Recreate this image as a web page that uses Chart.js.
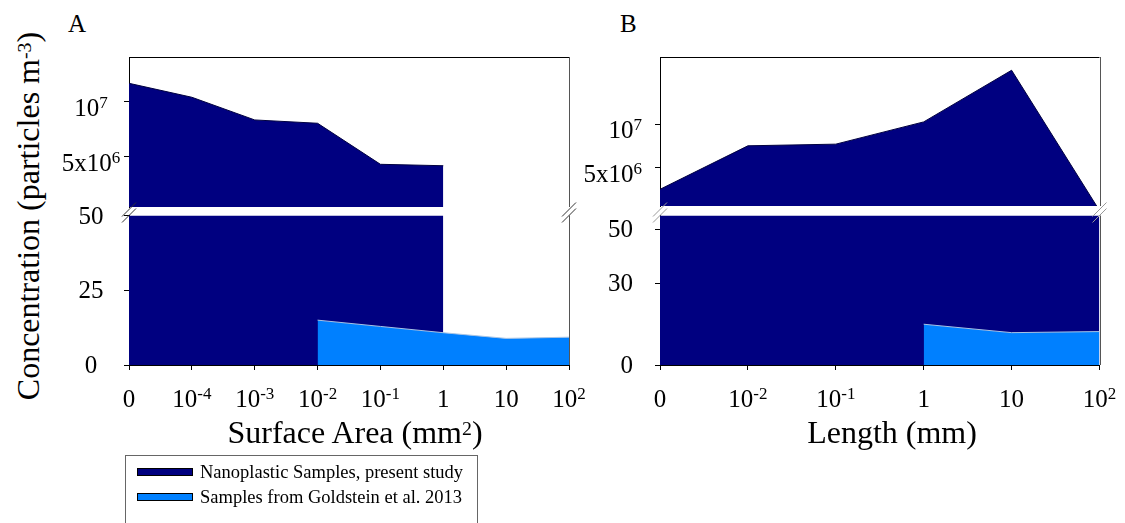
<!DOCTYPE html>
<html><head><meta charset="utf-8">
<script src="https://cdn.jsdelivr.net/npm/chart.js@4.4.1/dist/chart.umd.min.js"></script>
<style>
html,body{margin:0;padding:0;background:#fff}
body{width:1125px;height:523px;position:relative;overflow:hidden;font-family:"Liberation Serif","Times New Roman",serif;color:#000}
canvas{position:absolute}
.txt{position:absolute;white-space:nowrap;line-height:1}
sup{font-size:0.62em;vertical-align:0;position:relative;top:-0.42em}
#legend{position:absolute;left:125px;top:455px;width:353px;height:80px;border:1px solid #666;box-sizing:border-box}
.sw{position:absolute;width:56px;height:8px;border:1px solid #000;box-sizing:border-box}
.lt{position:absolute;font-size:18.5px;line-height:1;white-space:nowrap}
</style></head><body>
<canvas id="aU" width="550" height="165" style="left:50px;top:45px"></canvas>
<canvas id="aL" width="550" height="230" style="left:50px;top:195px"></canvas>
<canvas id="bU" width="555" height="165" style="left:570px;top:45px"></canvas>
<canvas id="bL" width="555" height="230" style="left:570px;top:195px"></canvas>
<div class="txt" style="left:68px;top:10.6px;font-size:25px">A</div>
<div class="txt" style="left:620px;top:10.6px;font-size:25px">B</div>
<div class="txt" style="font-size:32px;left:28px;top:216px;transform:translate(-50%,-50%) rotate(-90deg)">Concentration (particles m<sup>-3</sup>)</div>
<div class="txt" style="font-size:32px;left:355px;top:416px;transform:translateX(-50%)">Surface Area (mm<sup>2</sup>)</div>
<div class="txt" style="font-size:32px;left:892px;top:416px;transform:translateX(-50%)">Length (mm)</div>
<div id="legend">
  <div class="sw" style="left:11px;top:12px;background:#000080"></div>
  <div class="lt" style="left:74px;top:7px">Nanoplastic Samples, present study</div>
  <div class="sw" style="left:11px;top:37px;background:#0080FF"></div>
  <div class="lt" style="left:74px;top:32px">Samples from Goldstein et al. 2013</div>
</div>
<script>
// ---- data ----
const xLabelsA = ['0','10^-4','10^-3','10^-2','10^-1','1','10','10^2'];
const nanoA = [11670000, 10400000, 8340000, 8040000, 4310000, 4180000, null, null];
const goldA = [null, null, null, 15.0, 12.9, 10.8, 8.9, 9.3];
const xLabelsB = ['0','10^-2','10^-1','1','10','10^2'];
const nanoB = [2530000, 7520000, 7710000, 10260000, 16180000, 100000];
const goldB = [null, null, null, 15.0, 11.9, 12.3];
const yTicksUpper = [5000000, 10000000];
const yLabelsUpper = ['5x10^6', '10^7'];
const yTicksLowerA = [0, 25, 50];
const yLabelsLowerA = ['0', '25', '50'];
const yTicksLowerB = [0, 30, 50];
const yLabelsLowerB = ['0', '30', '50'];

const DARK = '#000080', LIGHT = '#0080FF';
const FONT = '"Liberation Serif","Times New Roman",serif';
const TICK_FS = 25;

function drawSup(ctx, text, x, y, align, fs) {
  const parts = text.split('^');
  const base = parts[0], sup = parts[1];
  const sfs = Math.round(fs * 0.66);
  ctx.font = fs + 'px ' + FONT;
  const bw = ctx.measureText(base).width;
  let sw = 0;
  if (sup) { ctx.font = sfs + 'px ' + FONT; sw = ctx.measureText(sup).width; }
  const total = bw + sw;
  const x0 = align === 'center' ? x - total / 2 : (align === 'right' ? x - total : x);
  ctx.textAlign = 'left'; ctx.textBaseline = 'alphabetic'; ctx.fillStyle = '#000';
  ctx.font = fs + 'px ' + FONT; ctx.fillText(base, x0, y);
  if (sup) { ctx.font = sfs + 'px ' + FONT; ctx.fillText(sup, x0 + bw, y - fs * 0.31); }
}

const decor = {
  id: 'decor',
  afterDraw(chart, args, o) {
    const ctx = chart.ctx, a = chart.chartArea;
    const ln = (x1, y1, x2, y2, c) => { ctx.beginPath(); ctx.strokeStyle = c; ctx.lineWidth = 1; ctx.moveTo(x1, y1); ctx.lineTo(x2, y2); ctx.stroke(); };
    ctx.save();
    const R = Math.round(a.right) + 0.5, T = Math.round(a.top) + 0.5;
    if (o.top) ln(a.left, T, a.right, T, '#000');
    ln(R, a.top, R, a.bottom, o.rightColor || '#666');
    if (o.breaks) {
      [a.left, a.right].forEach(x => {
        [-6, 0].forEach(dy => ln(x - 7, a.top + dy + 7, x + 7, a.top + dy - 7, o.breakColor || '#444'));
      });
    }
    const ys = chart.scales.y;
    o.yTicks.forEach((v, i) => {
      const py = ys.getPixelForValue(v);
      drawSup(ctx, o.yLabels[i], a.left - o.yLabOff, py + o.yBaseOff, o.yAlign, TICK_FS);
    });
    if (o.xLabels) {
      const xs = chart.scales.x;
      o.xLabels.forEach((l, i) => drawSup(ctx, l, xs.getPixelForValue(i), o.xBaseline, 'center', TICK_FS));
    }
    ctx.restore();
  }
};

function makeChart(id, labels, nano, gold, yMin, yMax, yTicks, yLabels, o) {
  return new Chart(document.getElementById(id), {
    type: 'line',
    data: { labels: labels, datasets: [
      { label: 'Samples from Goldstein et al. 2013', data: gold, backgroundColor: LIGHT, borderColor: '#a8c4e4', borderWidth: 1, fill: 'origin', pointRadius: 0, tension: 0, clip: 0, order: 0 },
      { label: 'Nanoplastic Samples, present study', data: nano, backgroundColor: DARK, borderColor: '#000040', borderWidth: 1, fill: 'origin', pointRadius: 0, tension: 0, clip: 0, order: 1 }
    ]},
    options: {
      responsive: false, animation: false, events: [],
      layout: { padding: o.pad, autoPadding: false },
      plugins: { legend: { display: false }, tooltip: { enabled: false }, title: { display: false },
        decor: { top: o.top, breaks: o.breaks, yTicks: yTicks, yLabels: yLabels, yLabOff: o.yLabOff, yAlign: o.yAlign, yBaseOff: o.yBaseOff, xLabels: o.xLabels, xBaseline: o.xBaseline, rightColor: o.rightColor, breakColor: o.breakColor } },
      scales: {
        x: { type: 'category', offset: false, display: o.showX,
             grid: { display: true, drawOnChartArea: false, drawTicks: true, tickLength: 5, color: '#000', offset: false },
             border: { display: true, color: '#000', width: 1 }, ticks: { display: false },
             afterFit: s => { s.height = o.xHeight; } },
        y: { type: 'linear', min: yMin, max: yMax,
             grid: { drawOnChartArea: false, drawTicks: true, tickLength: 5, color: '#000' },
             border: { display: true, color: '#000', width: 1 }, ticks: { display: false },
             afterBuildTicks: s => { s.ticks = yTicks.map(v => ({ value: v })); },
             afterFit: s => { s.width = o.yWidth; } }
      }
    },
    plugins: [decor]
  });
}

// Panel A
makeChart('aU', xLabelsA, nanoA, goldA, 430000, 14060000, yTicksUpper, yLabelsUpper,
  { pad: { top: 12, right: 31, bottom: 3, left: 0 }, yWidth: 79, showX: false, xHeight: 0, top: true, breaks: false,
    yLabOff: 38, yAlign: 'center', yBaseOff: 14, rightColor: '#555' });
makeChart('aL', xLabelsA, nanoA, goldA, 0, 50, yTicksLowerA, yLabelsLowerA,
  { pad: { top: 20.5, right: 31, bottom: 0, left: 0 }, yWidth: 79, showX: true, xHeight: 60, top: false, breaks: true,
    yLabOff: 38, yAlign: 'center', yBaseOff: 8, xLabels: xLabelsA, xBaseline: 212, rightColor: '#555', breakColor: '#333' });
// Panel B
makeChart('bU', xLabelsB, nanoB, goldB, 620000, 17700000, yTicksUpper, yLabelsUpper,
  { pad: { top: 12, right: 25.5, bottom: 4, left: 0 }, yWidth: 90, showX: false, xHeight: 0, top: true, breaks: false,
    yLabOff: 18, yAlign: 'right', yBaseOff: 14, rightColor: '#555' });
makeChart('bL', xLabelsB, nanoB, goldB, 0, 55, yTicksLowerB, yLabelsLowerB,
  { pad: { top: 20.5, right: 25.5, bottom: 0, left: 0 }, yWidth: 90, showX: true, xHeight: 60, top: false, breaks: true,
    yLabOff: 27, yAlign: 'right', yBaseOff: 8, xLabels: xLabelsB, xBaseline: 212, rightColor: '#555', breakColor: '#999' });
</script>
</body></html>
